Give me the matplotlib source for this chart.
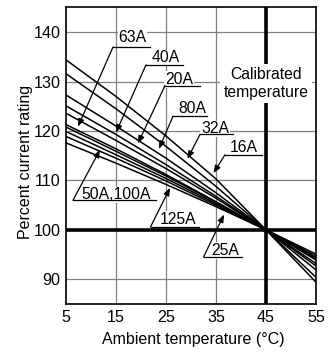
import matplotlib
matplotlib.use("Agg")
import matplotlib.pyplot as plt

plt.rcParams['font.family'] = ['Liberation Sans', 'DejaVu Sans']

# ---- data ----
temps = [5, 15, 25, 35, 45, 55]
curves = [
    [134.4, 127.0, 119.0, 110.3, 100.0, 89.4],
    [131.6, 124.5, 116.9, 108.8, 100.0, 90.4],
    [127.3, 121.0, 114.5, 107.5, 100.0, 91.9],
    [125.1, 119.3, 113.2, 106.8, 100.0, 92.7],
    [123.6, 118.1, 112.4, 106.4, 100.0, 93.2],
    [121.3, 116.4, 111.2, 105.7, 100.0, 93.9],
    [120.8, 115.9, 110.9, 105.6, 100.0, 94.1],
    [119.9, 115.2, 110.4, 105.3, 100.0, 94.4],
    [118.9, 114.5, 109.9, 105.0, 100.0, 94.7],
    [117.6, 113.5, 109.2, 104.7, 100.0, 95.1],
]
xticks = [5, 15, 25, 35, 45, 55]
yticks = [90, 100, 110, 120, 130, 140]
calib_temp = 45
calib_pct = 100

# labels: text, text position, underline (x0, x1, y), arrow tip
label_names = ["63A", "40A", "20A", "80A", "32A", "16A", "50A,100A", "125A", "25A"]
label_text_xy = [(18.3, 138.85), (24.96, 134.8), (27.6, 130.4), (30.3, 124.65),
                 (34.8, 120.45), (40.5, 116.75), (15.1, 107.1), (27.5, 102.1), (36.8, 95.85)]
label_under = [(14.4, 21.8, 137.0), (21.0, 28.4, 133.4), (24.8, 31.8, 129.2), (26.4, 33.2, 123.0),
               (31.8, 38.4, 119.3), (36.8, 44.2, 115.2), (6.4, 22.9, 106.0), (21.9, 31.6, 100.6),
               (32.5, 40.1, 94.5)]
label_tip = [(7.4, 120.9), (15.0, 119.7), (19.4, 117.5), (23.6, 116.4), (29.3, 114.4),
             (34.5, 111.5), (11.8, 116.2), (25.8, 108.5), (36.6, 103.1)]

fig = plt.figure(figsize=(3.29, 3.52), dpi=100)
ax = fig.add_axes([66/329, 1-304/352, 250/329, 297/352])
ax.set_xlim(5, 55)
ax.set_ylim(85, 145.1)

# grid
for x in xticks[1:-1]:
    if x == calib_temp:
        ax.axvline(x, color='black', lw=2.6, zorder=3)
    else:
        ax.axvline(x, color='#808080', lw=0.9, zorder=1)
for y in yticks:
    if y == calib_pct:
        ax.axhline(y, color='black', lw=2.6, zorder=3)
    else:
        ax.axhline(y, color='#808080', lw=0.9, zorder=1)

for c in curves:
    ax.plot(temps, c, color='black', lw=1.1, zorder=4, solid_capstyle='butt')

for name, txy, und, tip in zip(label_names, label_text_xy, label_under, label_tip):
    ax.text(txy[0], txy[1], name, fontsize=11.3, ha='center', va='center', zorder=6,
            bbox=dict(facecolor='white', edgecolor='none', pad=0.6))
    ax.plot([und[0], und[1]], [und[2], und[2]], color='black', lw=0.9, zorder=7)
    ax.annotate('', xy=tip, xytext=(und[0], und[2]), zorder=7,
                arrowprops=dict(arrowstyle='-|>,head_length=0.45,head_width=0.18',
                                color='black', lw=0.9, shrinkA=0, shrinkB=0))

ax.text(45, 129.6, "Calibrated\ntemperature", fontsize=11.3, ha='center', va='center',
        linespacing=1.2, zorder=8,
        bbox=dict(facecolor='white', edgecolor='none', pad=2.5))

ax.set_xticks(xticks)
ax.set_yticks(yticks)
ax.tick_params(length=0, labelsize=11.6, pad=4)
for s in ax.spines.values():
    s.set_linewidth(1.2)
    s.set_zorder(10)
ax.set_xlabel("Ambient temperature (°C)", fontsize=11.5)
ax.set_ylabel("Percent current rating", fontsize=11.5)
ax.xaxis.set_label_coords(0.51, -0.094)
ax.yaxis.set_label_coords(-0.132, 0.48)

fig.savefig("out.png", dpi=100)
